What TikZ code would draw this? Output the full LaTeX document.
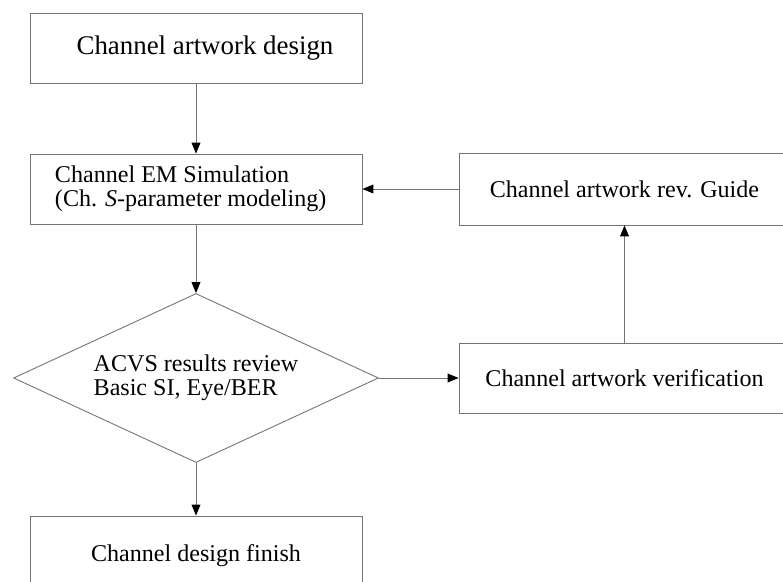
\documentclass[tikz,border=0pt]{standalone}
\usepackage{fontspec}
\setmainfont{Liberation Serif}
\usetikzlibrary{arrows.meta,shapes.geometric}

\tikzset{
	blk/.style={draw=black!55, line width=0.5pt, minimum width=6.64cm, minimum height=1.4cm, inner sep=0pt},
	dia/.style={draw=black!55, line width=0.5pt, diamond, aspect=2.16, minimum width=7.3cm, minimum height=3.38cm, inner sep=0pt, align=left},
	arr/.style={draw=black!55, line width=0.5pt, -{Triangle[length=6.2pt, width=5pt, color=black]}}
}

\begin{document}
\begin{tikzpicture}[font=\fontsize{13.7pt}{13.6pt}\selectfont]
\clip (0,0) rectangle (15.66,11.62);

\node[blk, font=\fontsize{15.3pt}{16pt}\selectfont] (design) at (3.92,10.66) {\hspace*{0.36cm}Channel artwork design};
\node[blk, text width=5.64cm, inner xsep=0.5cm, align=flush left] (sim) at (3.92,7.84) {Channel EM Simulation\\(Ch. \textit{S}-parameter modeling)};
\node[dia] (review) at (3.92,4.06) {ACVS results review\\Basic SI, Eye/BER};
\node[blk, minimum height=1.6cm] (finish) at (3.92,0.5) {Channel design finish};
\node[blk, minimum width=6.62cm, minimum height=1.44cm] (guide) at (12.49,7.84) {Channel artwork rev. Guide};
\node[blk, minimum width=6.62cm] (verify) at (12.49,4.06) {Channel artwork verification};

\path[arr] (design) edge (sim)
	(sim) edge (review)
	(review) edge (finish);

\path[arr] (review) edge (verify)
	(verify) edge (guide)
	(guide) edge (sim);
\end{tikzpicture}
\end{document}
